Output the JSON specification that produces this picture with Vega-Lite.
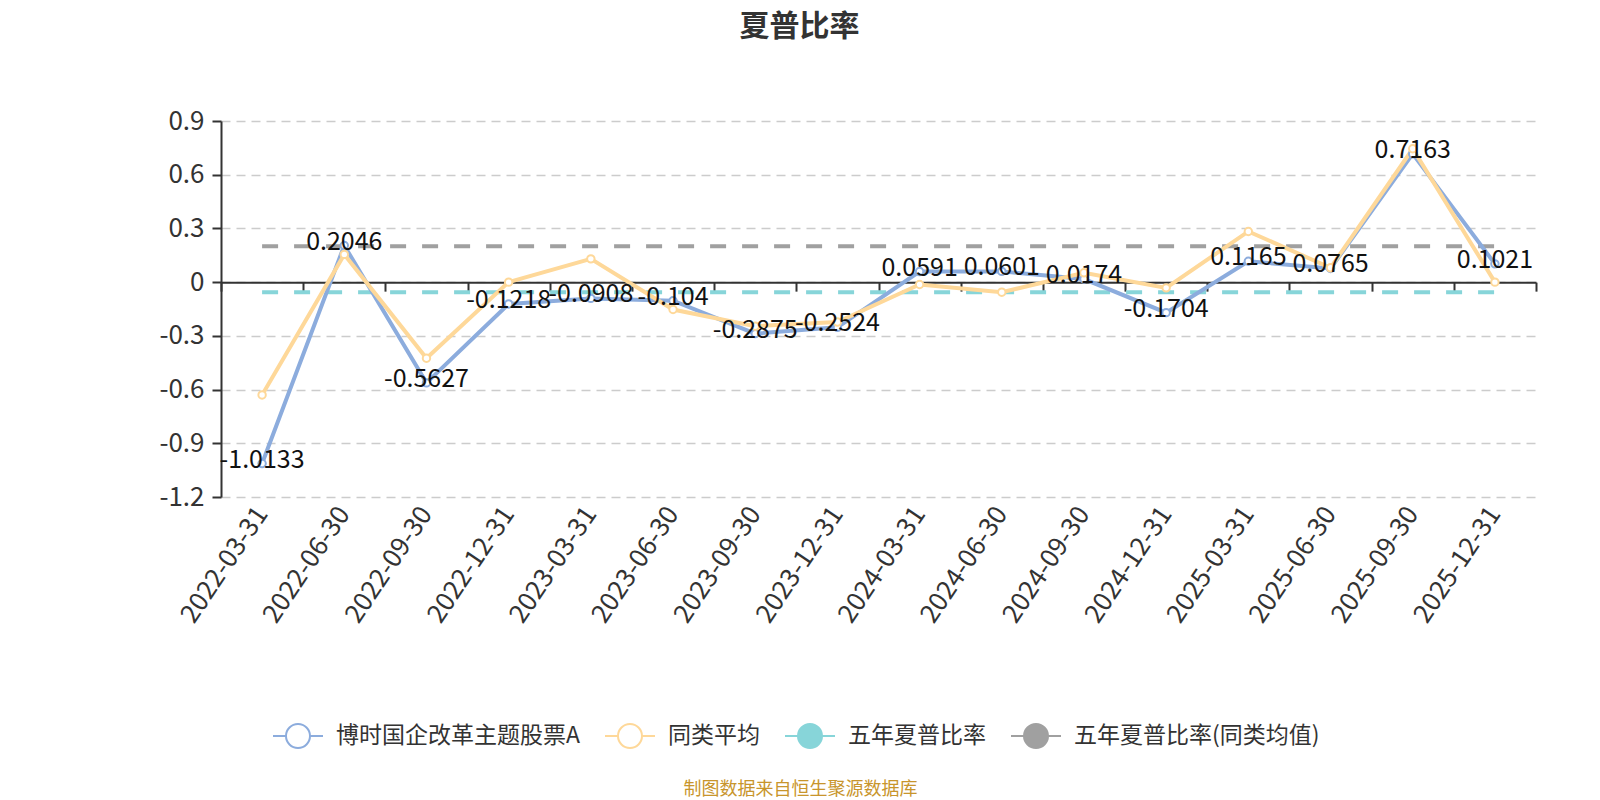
{
  "$schema": "https://vega.github.io/schema/vega-lite/v6.json",
  "width": 1315,
  "height": 376,
  "autosize": {"type": "none"},
  "padding": {"left": 221, "top": 121, "right": 64, "bottom": 303},
  "background": "white",
  "config": {"font": "Noto Sans CJK SC", "view": {"stroke": null}},
  "title": {"text": "夏普比率", "fontSize": 30, "fontWeight": "bold", "color": "#333333", "anchor": "middle", "frame": "group", "dx": -79, "offset": 66},
  "datasets": {
    "lines": [
      {"d": "2022-03-31", "s": "博时国企改革主题股票A", "v": -1.0133},
      {"d": "2022-06-30", "s": "博时国企改革主题股票A", "v": 0.2046},
      {"d": "2022-09-30", "s": "博时国企改革主题股票A", "v": -0.5627},
      {"d": "2022-12-31", "s": "博时国企改革主题股票A", "v": -0.1218},
      {"d": "2023-03-31", "s": "博时国企改革主题股票A", "v": -0.0908},
      {"d": "2023-06-30", "s": "博时国企改革主题股票A", "v": -0.104},
      {"d": "2023-09-30", "s": "博时国企改革主题股票A", "v": -0.2875},
      {"d": "2023-12-31", "s": "博时国企改革主题股票A", "v": -0.2524},
      {"d": "2024-03-31", "s": "博时国企改革主题股票A", "v": 0.0591},
      {"d": "2024-06-30", "s": "博时国企改革主题股票A", "v": 0.0601},
      {"d": "2024-09-30", "s": "博时国企改革主题股票A", "v": 0.0174},
      {"d": "2024-12-31", "s": "博时国企改革主题股票A", "v": -0.1704},
      {"d": "2025-03-31", "s": "博时国企改革主题股票A", "v": 0.1165},
      {"d": "2025-06-30", "s": "博时国企改革主题股票A", "v": 0.0765},
      {"d": "2025-09-30", "s": "博时国企改革主题股票A", "v": 0.7163},
      {"d": "2025-12-31", "s": "博时国企改革主题股票A", "v": 0.1021},
      {"d": "2022-03-31", "s": "同类平均", "v": -0.63},
      {"d": "2022-06-30", "s": "同类平均", "v": 0.155},
      {"d": "2022-09-30", "s": "同类平均", "v": -0.425},
      {"d": "2022-12-31", "s": "同类平均", "v": 0.0},
      {"d": "2023-03-31", "s": "同类平均", "v": 0.13},
      {"d": "2023-06-30", "s": "同类平均", "v": -0.153},
      {"d": "2023-09-30", "s": "同类平均", "v": -0.246},
      {"d": "2023-12-31", "s": "同类平均", "v": -0.223},
      {"d": "2024-03-31", "s": "同类平均", "v": -0.013},
      {"d": "2024-06-30", "s": "同类平均", "v": -0.056},
      {"d": "2024-09-30", "s": "同类平均", "v": 0.052},
      {"d": "2024-12-31", "s": "同类平均", "v": -0.032},
      {"d": "2025-03-31", "s": "同类平均", "v": 0.283},
      {"d": "2025-06-30", "s": "同类平均", "v": 0.08},
      {"d": "2025-09-30", "s": "同类平均", "v": 0.745},
      {"d": "2025-12-31", "s": "同类平均", "v": 0.0}
    ],
    "refs": [
      {"d": "2022-03-31", "s": "五年夏普比率", "v": -0.057},
      {"d": "2025-12-31", "s": "五年夏普比率", "v": -0.057},
      {"d": "2022-03-31", "s": "五年夏普比率(同类均值)", "v": 0.2},
      {"d": "2025-12-31", "s": "五年夏普比率(同类均值)", "v": 0.2}
    ]
  },
  "layer": [
    {
      "data": {"name": "refs"},
      "mark": {"type": "line", "strokeWidth": 4, "strokeDash": [16, 16]},
      "encoding": {
        "x": {"field": "d", "type": "ordinal", "bandPosition": 0.5,
          "scale": {"type": "band", "paddingInner": 0, "paddingOuter": 0,
            "domain": ["2022-03-31","2022-06-30","2022-09-30","2022-12-31","2023-03-31","2023-06-30","2023-09-30","2023-12-31","2024-03-31","2024-06-30","2024-09-30","2024-12-31","2025-03-31","2025-06-30","2025-09-30","2025-12-31"]},
          "axis": {"orient": "bottom", "offset": -214.86, "domain": true, "domainColor": "#333333", "domainWidth": 2, "ticks": true, "tickColor": "#333333", "tickWidth": 2, "tickSize": 9, "tickBand": "extent", "labels": false, "title": null, "grid": false}},
        "y": {"field": "v", "type": "quantitative",
          "scale": {"domain": [-1.2, 0.9], "nice": false, "zero": false},
          "axis": {"values": [-1.2, -0.9, -0.6, -0.3, 0, 0.3, 0.6, 0.9],
            "labelExpr": "datum.value == 0 ? '0' : '' + (round(datum.value * 10) / 10)",
            "grid": true, "gridColor": "#cccccc", "gridDash": [9, 6], "gridWidth": 1.5,
            "domainColor": "#333333", "domainWidth": 2, "tickColor": "#333333", "tickWidth": 2, "tickSize": 9,
            "labelFontSize": 26, "labelColor": "#333333", "labelPadding": 8, "title": null}},
        "color": {"field": "s", "type": "nominal",
          "scale": {"domain": ["博时国企改革主题股票A", "同类平均", "五年夏普比率", "五年夏普比率(同类均值)"],
            "range": ["#8cacdd", "#fed899", "#87d5d9", "#a0a0a0"]},
          "legend": {"orient": "none", "legendX": 51, "legendY": 589, "direction": "horizontal", "title": null,
            "symbolType": "M-1,0L-0.48,0M0.48,0L1,0M0.48,0A0.48,0.48,0,1,1,-0.48,0A0.48,0.48,0,1,1,0.48,0Z",
            "symbolSize": 2500, "symbolStrokeWidth": 2, "labelFontSize": 23, "labelColor": "#333333", "labelLimit": 500,
            "labelOffset": 12, "columnPadding": 21, "padding": 0,
            "encode": {"symbols": {"update": {
              "fill": [{"test": "datum.value === '五年夏普比率'", "value": "#87d5d9"}, {"test": "datum.value === '五年夏普比率(同类均值)'", "value": "#a0a0a0"}, {"value": "#ffffff"}],
              "stroke": [{"test": "datum.value === '博时国企改革主题股票A'", "value": "#8cacdd"}, {"test": "datum.value === '同类平均'", "value": "#fed899"}, {"test": "datum.value === '五年夏普比率'", "value": "#87d5d9"}, {"value": "#a0a0a0"}],
              "strokeWidth": {"value": 2},
              "opacity": {"value": 1}
            }}}}}
      }
    },
    {
      "data": {"name": "lines"},
      "mark": {"type": "line", "strokeWidth": 4},
      "encoding": {
        "x": {"field": "d", "type": "ordinal", "bandPosition": 0.5, "axis": null},
        "y": {"field": "v", "type": "quantitative"},
        "color": {"field": "s", "type": "nominal"}
      }
    },
    {
      "data": {"name": "lines"},
      "mark": {"type": "point", "filled": false, "fill": "#ffffff", "strokeWidth": 2, "size": 55, "opacity": 1},
      "encoding": {
        "x": {"field": "d", "type": "ordinal", "bandPosition": 0.5, "axis": null},
        "y": {"field": "v", "type": "quantitative"},
        "color": {"field": "s", "type": "nominal"}
      }
    },
    {
      "data": {"name": "lines"},
      "transform": [{"filter": "datum.s === '博时国企改革主题股票A'"}],
      "mark": {"type": "text", "fontSize": 25, "dy": -4, "baseline": "middle", "align": "center", "color": "#111111"},
      "encoding": {
        "x": {"field": "d", "type": "ordinal", "bandPosition": 0.5,
          "axis": {"orient": "bottom", "domain": false, "ticks": false, "grid": false,
            "labelAngle": -56, "labelAlign": "right", "labelBaseline": "middle", "labelFontSize": 26, "labelColor": "#333333", "labelPadding": 12,
            "title": "制图数据来自恒生聚源数据库", "titleFontSize": 18, "titleColor": "#c8952c", "titleFontWeight": "normal",
            "titleX": 579, "titleY": 292, "titleBaseline": "middle", "titleAlign": "center", "titleAngle": 0}},
        "y": {"field": "v", "type": "quantitative"},
        "text": {"field": "v", "type": "nominal"}
      }
    }
  ],
  "resolve": {"axis": {"x": "independent"}}
}
